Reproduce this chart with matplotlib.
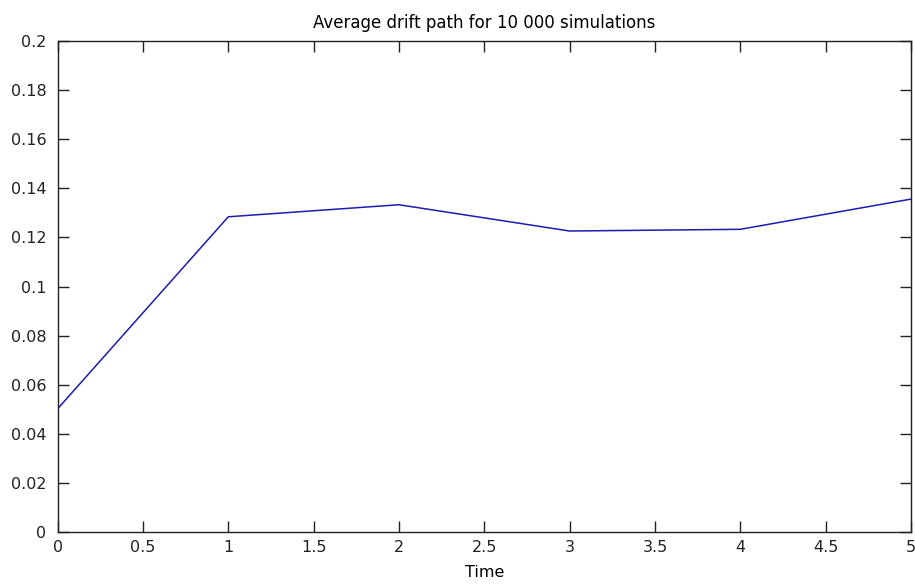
import matplotlib.pyplot as plt

# average drift at each time step
time = [0, 1, 2, 3, 4, 5]
drift = [0.0502, 0.1284, 0.1333, 0.1226, 0.1233, 0.1356]

plt.rcParams["font.family"] = ["DejaVu Sans"]

fig = plt.figure(figsize=(9.15, 5.88), dpi=100)
ax = fig.add_axes([0.063, 0.0952, 0.9326, 0.8351])

ax.plot(time, drift, color="#1c1cb4", linewidth=1.1)

ax.set_xlim(0, 5)
ax.set_ylim(0, 0.2)
ax.set_xticks([0, 0.5, 1, 1.5, 2, 2.5, 3, 3.5, 4, 4.5, 5])
ax.set_xticklabels(["0", "0.5", "1", "1.5", "2", "2.5", "3", "3.5", "4", "4.5", "5"])
ax.set_yticks([0, 0.02, 0.04, 0.06, 0.08, 0.1, 0.12, 0.14, 0.16, 0.18, 0.2])
ax.set_yticklabels(["0", "0.02", "0.04", "0.06", "0.08", "0.1", "0.12", "0.14",
                    "0.16", "0.18", "0.2"])

ax.tick_params(direction="in", length=8, width=1, top=True, right=True,
               labelsize=11.5, colors="#222222")
ax.tick_params(axis="y", pad=8)
ax.tick_params(axis="x", pad=6)
for s in ax.spines.values():
    s.set_color("#222222")
    s.set_linewidth(1)

ax.set_title("Average drift path for 10 000 simulations", fontsize=12, pad=9)
ax.set_xlabel("Time", fontsize=11.5, labelpad=7)

fig.savefig("out.png", dpi=100)
